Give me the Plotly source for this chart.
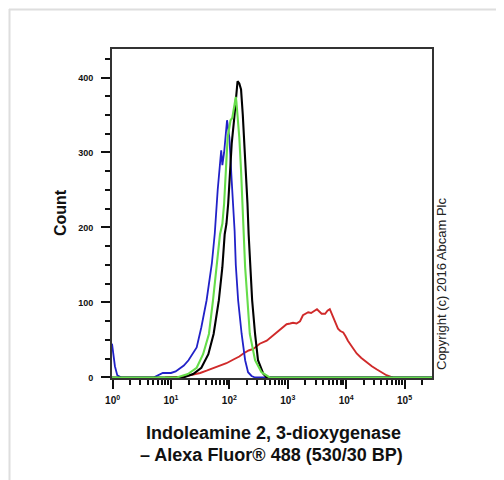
import plotly.graph_objects as go

# ---- data (log10 of fluorescence intensity, event count) ----
blue_log = [-0.01, 0.0, 0.04, 0.08, 0.15, 0.70, 0.78, 0.86, 1.00, 1.08, 1.15, 1.22, 1.30, 1.38,
            1.44, 1.52, 1.61, 1.70, 1.75, 1.80, 1.84, 1.86, 1.88, 1.91, 1.96, 2.00, 2.04, 2.07,
            2.09, 2.11, 2.15, 2.21, 2.27, 2.32, 2.38, 2.44, 5.47]
blue_cnt = [45, 38, 15, 3, 0, 0, 3, 6, 6, 8, 12, 16, 23, 32,
            40, 67, 103, 152, 192, 250, 293, 303, 283, 300, 343, 320, 262, 225,
            195, 150, 103, 58, 23, 7, 2, 0, 0]

black_log = [-0.01, 1.21, 1.38, 1.52, 1.64, 1.73, 1.82, 1.88, 1.92, 1.95, 1.98, 2.01, 2.04,
             2.08, 2.11, 2.14, 2.17, 2.20, 2.23, 2.26, 2.28, 2.31, 2.33, 2.36, 2.39, 2.44,
             2.49, 2.58, 2.64, 5.47]
black_cnt = [0, 0, 4.5, 13, 31, 58, 103, 147, 191, 205, 232, 276, 312,
             343, 374, 395, 392, 384, 350, 310, 276, 232, 191, 147, 103, 58,
             23, 5, 0, 0]

green_log = [-0.01, 1.10, 1.29, 1.44, 1.55, 1.65, 1.72, 1.78, 1.84, 1.88, 1.91, 1.94, 1.97,
             2.02, 2.05, 2.08, 2.11, 2.12, 2.14, 2.17, 2.20, 2.22, 2.24, 2.27, 2.31, 2.35,
             2.44, 2.55, 2.69, 5.47]
green_cnt = [0, 0, 4.5, 13, 31, 58, 103, 147, 191, 205, 232, 276, 320,
             343, 346, 360, 374, 368, 352, 320, 276, 232, 191, 147, 103, 58,
             23, 7, 0, 0]

red_log = [0.90, 1.05, 1.20, 1.38, 1.50, 1.61, 1.72, 1.84, 1.95, 2.07, 2.17, 2.24, 2.33, 2.41,
           2.52, 2.64, 2.75, 2.86, 2.92, 2.98, 3.04, 3.09, 3.15, 3.21, 3.26, 3.30, 3.35, 3.40,
           3.45, 3.50, 3.54, 3.58, 3.64, 3.68, 3.72, 3.75, 3.78, 3.83, 3.86, 3.90, 3.95, 3.99,
           4.03, 4.10, 4.18, 4.26, 4.35, 4.44, 4.52, 4.60, 4.69, 4.76, 4.80]
red_cnt = [0, 0, 1, 4, 6, 9, 12, 15, 19, 24, 28, 32, 36, 38,
           45, 49, 56, 63, 66, 71, 72, 73, 72, 75, 83, 85, 87, 86,
           89, 91, 88, 85, 85, 89, 91, 85, 79, 70, 65, 62, 60, 55,
           49, 41, 32, 26, 20, 15, 11, 7, 3, 1, 0]

x_tick_exp = [0, 1, 2, 3, 4, 5]
y_tick_vals = [0, 100, 200, 300, 400]

x_title_1 = "Indoleamine 2, 3-dioxygenase"
x_title_2 = "– Alexa Fluor® 488 (530/30 BP)"
y_title = "Count"
copyright_text = "Copyright (c) 2016 Abcam Plc"

series = [
    (red_log, red_cnt, "#d02a2a", 1.9),
    (blue_log, blue_cnt, "#2121c8", 1.8),
    (black_log, black_cnt, "#000000", 2.1),
    (green_log, green_cnt, "#66dd4a", 2.1),
]

fig = go.Figure()
for lx, cnt, col, w in series:
    fig.add_trace(go.Scatter(
        x=[10 ** v for v in lx], y=cnt, mode="lines",
        line=dict(color=col, width=w), hoverinfo="skip", showlegend=False))

minor_vals = [k * 10 ** d for d in range(0, 6) for k in range(2, 10) if k * 10 ** d < 10 ** 5.47]

fig.update_xaxes(
    type="log", range=[-0.01, 5.47],
    tickvals=[10 ** e for e in x_tick_exp],
    ticktext=[f"10<sup>{e}</sup>" for e in x_tick_exp],
    ticks="outside", ticklen=9, tickwidth=2, tickcolor="#111",
    minor=dict(tickvals=minor_vals, ticks="outside", ticklen=5, tickwidth=1.5, tickcolor="#111"),
    showline=True, linecolor="#333", linewidth=2, mirror=True,
    showgrid=False, zeroline=False,
    tickfont=dict(family="Liberation Sans, Arial", size=10, color="#111", weight="bold"),
    ticklabelstandoff=3,
)
fig.update_yaxes(
    range=[-0.7, 438],
    tickvals=y_tick_vals,
    ticks="outside", ticklen=9, tickwidth=2, tickcolor="#111",
    minor=dict(dtick=25, ticks="outside", ticklen=5, tickwidth=1.5, tickcolor="#111"),
    showline=True, linecolor="#333", linewidth=2, mirror=True,
    showgrid=False, zeroline=False,
    tickfont=dict(family="Liberation Sans, Arial", size=9, color="#111", weight="bold"),
    ticklabelstandoff=6,
)

# page offset (browser body margin) compensation
OFF = 8
W, H = 504 - OFF, 480 - OFF
PL, PT, PR, PB = 112 - OFF, 49 - OFF, 432 - OFF, 378 - OFF  # plot-area edges in figure px


def px(xp):
    return (xp - OFF - PL) / (PR - PL)


def py(yp):
    return (PB - (yp - OFF)) / (PB - PT)


anns = []
for text, xp, yp in [(x_title_1, 273, 433), (x_title_2, 271, 455)]:
    anns.append(dict(text=text, xref="paper", yref="paper", x=px(xp), y=py(yp),
                     xanchor="center", yanchor="middle", showarrow=False,
                     font=dict(family="Liberation Sans, Arial", size=18, color="#111", weight="bold")))
anns.append(dict(text=y_title, xref="paper", yref="paper", x=px(60), y=py(213), textangle=-90,
                 xanchor="center", yanchor="middle", showarrow=False,
                 font=dict(family="Liberation Sans, Arial", size=16, color="#111", weight="bold")))
anns.append(dict(text=copyright_text, xref="paper", yref="paper", x=px(441), y=py(284), textangle=-90,
                 xanchor="center", yanchor="middle", showarrow=False,
                 font=dict(family="Liberation Sans, Arial", size=13, color="#222")))

shapes = [
    dict(type="line", xref="paper", yref="paper",
         x0=px(9), x1=px(504), y0=py(9.5), y1=py(9.5), line=dict(color="#dedede", width=2)),
    dict(type="line", xref="paper", yref="paper",
         x0=px(9.5), x1=px(9.5), y0=py(9), y1=py(481), line=dict(color="#dedede", width=2)),
]

fig.update_layout(
    width=W, height=H,
    margin=dict(l=PL, r=W - PR, t=PT, b=H - PB),
    paper_bgcolor="white", plot_bgcolor="white",
    annotations=anns, shapes=shapes,
)

fig.write_html("out.html")
